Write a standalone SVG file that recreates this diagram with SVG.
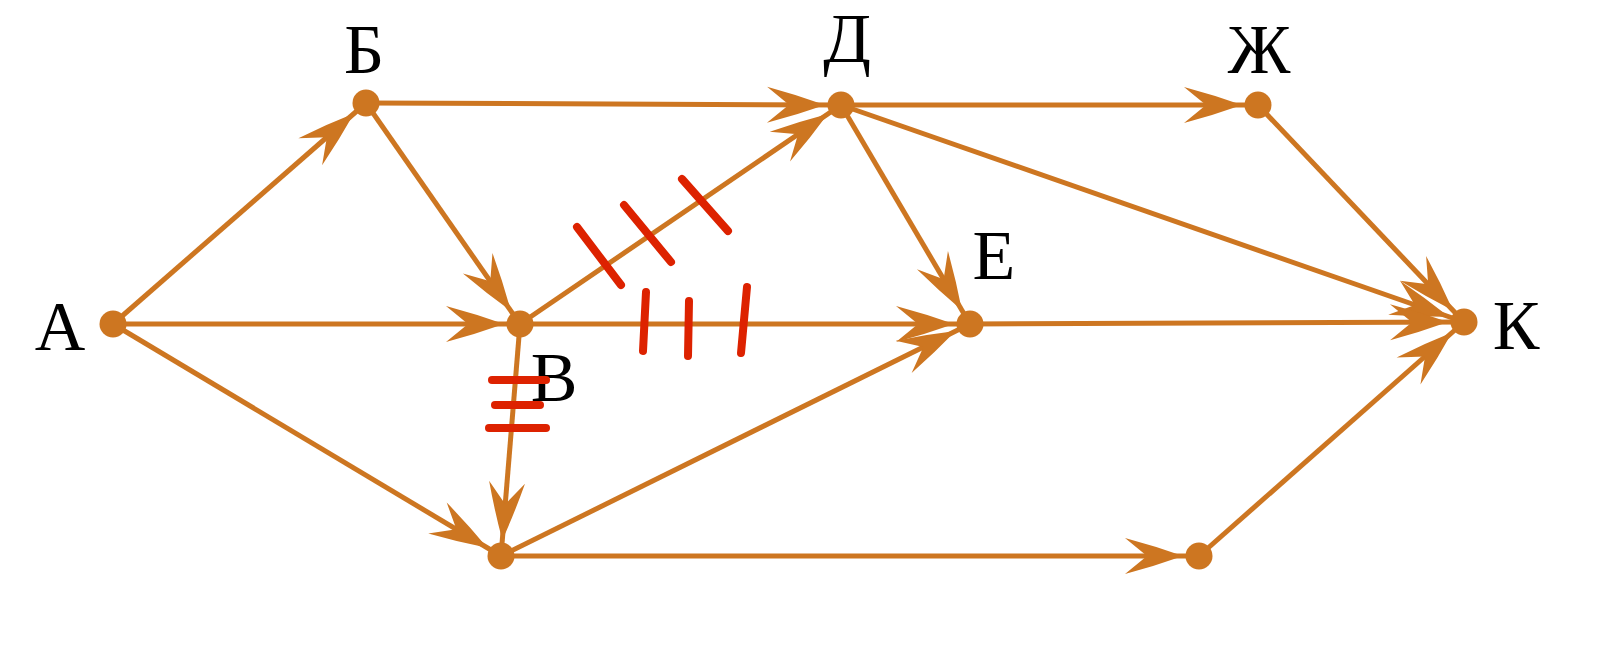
<svg xmlns="http://www.w3.org/2000/svg" width="1604" height="646" viewBox="0 0 1604 646">
<style>
.e{stroke:#cd7621;stroke-width:5;fill:none;marker-end:url(#ah)}
.n{fill:#cd7621}
.t{font-family:"Liberation Serif","Times New Roman",serif;font-size:70px;fill:#000;text-anchor:middle}
.r{stroke:#dd2200;stroke-width:8;stroke-linecap:round}
</style>
<defs>
<marker id="ah" markerUnits="userSpaceOnUse" markerWidth="80" markerHeight="40" viewBox="0 0 80 40" refX="76" refY="20" orient="auto">
<path d="M60,20 Q32,10 2,2 L24,20 L2,38 Q32,30 60,20 Z" fill="#cd7621"/>
</marker>
</defs>
<rect width="1604" height="646" fill="#fff"/>
<g id="connectors">
<line class="e" x1="113" y1="324" x2="366" y2="103"/>
<line class="e" x1="113" y1="324" x2="520" y2="324"/>
<line class="e" x1="113" y1="324" x2="501" y2="556"/>
<line class="e" x1="366" y1="103" x2="841" y2="105"/>
<line class="e" x1="366" y1="103" x2="520" y2="324"/>
<line class="e" x1="520" y1="324" x2="841" y2="105"/>
<line class="e" x1="520" y1="324" x2="970" y2="324"/>
<line class="e" x1="520" y1="324" x2="501" y2="556"/>
<line class="e" x1="841" y1="105" x2="1258" y2="105"/>
<line class="e" x1="841" y1="105" x2="970" y2="324"/>
<line class="e" x1="841" y1="105" x2="1464" y2="322"/>
<line class="e" x1="1258" y1="105" x2="1464" y2="322"/>
<line class="e" x1="970" y1="324" x2="1464" y2="322"/>
<line class="e" x1="501" y1="556" x2="970" y2="324"/>
<line class="e" x1="501" y1="556" x2="1199" y2="556"/>
<line class="e" x1="1199" y1="556" x2="1464" y2="322"/>
</g>
<g id="node-A"><circle class="n" cx="113" cy="324" r="13.5"/><text class="t" x="60" y="350">А</text></g>
<g id="node-B"><circle class="n" cx="366" cy="103" r="13.5"/><text class="t" x="364" y="73">Б</text></g>
<g id="node-V"><circle class="n" cx="520" cy="324" r="13.5"/><text class="t" x="554" y="401">В</text></g>
<g id="node-D"><circle class="n" cx="841" cy="105" r="13.5"/><text class="t" x="847" y="62">Д</text></g>
<g id="node-Zh"><circle class="n" cx="1258" cy="105" r="13.5"/><text class="t" x="1259" y="73">Ж</text></g>
<g id="node-E"><circle class="n" cx="970" cy="324" r="13.5"/><text class="t" x="994" y="279">Е</text></g>
<g id="node-K"><circle class="n" cx="1464" cy="322" r="13.5"/><text class="t" x="1516" y="349">К</text></g>
<g id="node-G"><circle class="n" cx="501" cy="556" r="13.5"/></g>
<g id="node-H"><circle class="n" cx="1199" cy="556" r="13.5"/></g>
<g id="ticks">
<line class="r" x1="577" y1="227" x2="621" y2="285"/>
<line class="r" x1="624" y1="205" x2="671" y2="262"/>
<line class="r" x1="682" y1="179" x2="728" y2="231"/>
<line class="r" x1="646" y1="292" x2="643" y2="351"/>
<line class="r" x1="689" y1="301" x2="688" y2="356"/>
<line class="r" x1="747" y1="287" x2="741" y2="353"/>
<line class="r" x1="492" y1="380" x2="546" y2="380"/>
<line class="r" x1="495" y1="405" x2="540" y2="405"/>
<line class="r" x1="489" y1="428" x2="546" y2="428"/>
</g>
</svg>
